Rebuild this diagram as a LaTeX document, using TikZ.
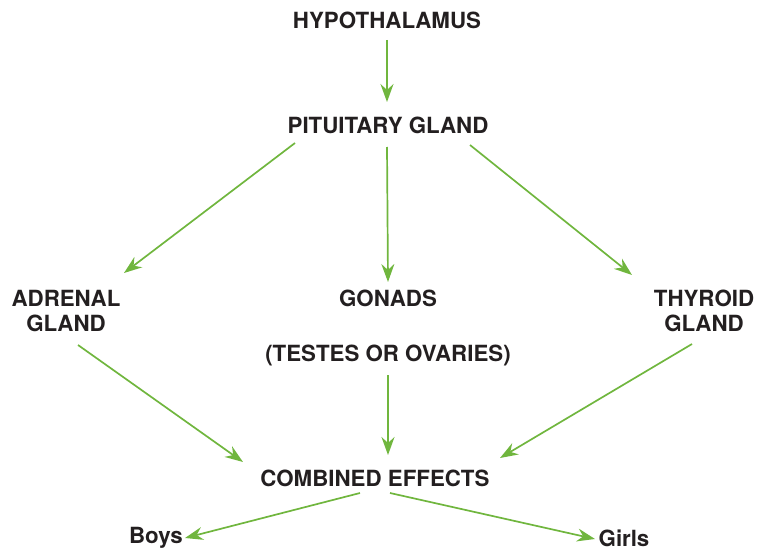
\documentclass[tikz,border=0pt]{standalone}
\usepackage{fontspec}
\setmainfont{TeX Gyre Heros}
\usetikzlibrary{arrows.meta}
\definecolor{arrowgreen}{RGB}{112,182,62}
\definecolor{labelgray}{RGB}{35,31,32}

\begin{document}
\begin{tikzpicture}[x=1pt, y=-1pt,
    lbl/.style={inner sep=0pt, text=labelgray, align=center,
      font=\fontsize{22.3}{25}\selectfont\bfseries},
    flow/.style={draw=arrowgreen, line width=1.7pt,
      -{Stealth[length=18pt, width=13pt, inset=6pt]}}]
  \useasboundingbox (0,0) rectangle (759,551);

  % glands
  \node[lbl] (hyp) at (387,20) {HYPOTHALAMUS};
  \node[lbl] (pit) at (388,125) {PITUITARY GLAND};
  \node[lbl] (adr) at (66,311) {ADRENAL\\GLAND};
  \node[lbl] (gon) at (388,298) {GONADS};
  \node[lbl] (tes) at (388,355) {(TESTES OR OVARIES)};
  \node[lbl] (thy) at (704,311) {THYROID\\GLAND};

  % outcome
  \node[lbl] (comb) at (375,478) {COMBINED EFFECTS};
  \node[lbl] (boys) at (156,538) {Boys};
  \node[lbl] (girls) at (624,538) {Girls};

  % hormone pathways
  \draw[flow] ([shift={(0,20)}]hyp.center) -- ([shift={(-1,-23)}]pit.center);
  \draw[flow] ([shift={(-93,18)}]pit.center) -- ([shift={(58,-38)}]adr.center);
  \draw[flow] ([shift={(-1,22)}]pit.center) -- ([shift={(0,-16)}]gon.center);
  \draw[flow] ([shift={(82,20)}]pit.center) -- ([shift={(-72,-36)}]thy.center);
  \draw[flow] ([shift={(12,34)}]adr.center) -- ([shift={(-132,-16)}]comb.center);
  \draw[flow] ([shift={(0,20)}]tes.center) -- ([shift={(13,-23)}]comb.center);
  \draw[flow] ([shift={(-12,33)}]thy.center) -- ([shift={(125,-20)}]comb.center);
  \draw[flow] ([shift={(-15,15)}]comb.center) -- ([shift={(29,0)}]boys.center);
  \draw[flow] ([shift={(15,15)}]comb.center) -- ([shift={(-29,1)}]girls.center);
\end{tikzpicture}
\end{document}
